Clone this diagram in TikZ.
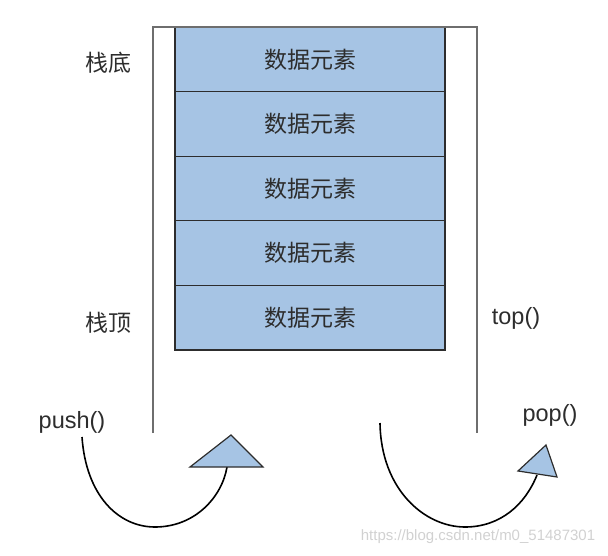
\documentclass[tikz,border=0pt]{standalone}
\usepackage{fontspec}
\setmainfont{Liberation Sans}
\newfontfamily\cjk{Noto Sans CJK SC}
\usepackage{tikz}
\usetikzlibrary{positioning,calc}
\definecolor{cellblue}{RGB}{166,196,228}
\definecolor{wallgray}{RGB}{110,110,110}
\definecolor{textgray}{RGB}{45,45,45}

\begin{document}
\begin{tikzpicture}[x=1pt, y=-1pt,
  cell/.style={rectangle, draw=textgray, line width=1.3pt, fill=cellblue, minimum width=270pt, minimum height=64.6pt, inner sep=0pt, font=\cjk\fontsize{23}{27}\selectfont, text=textgray},
  side/.style={font=\cjk\fontsize{23}{27}\selectfont, text=textgray, inner sep=0pt},
  op/.style={font=\fontsize{23.5}{27}\selectfont, text=textgray, inner sep=0pt},
  wall/.style={draw=wallgray, line width=1.6pt},
  swing/.style={draw=black, line width=1.6pt},
  head/.style={draw=textgray, line width=1.2pt, fill=cellblue, line join=miter},
]
  \useasboundingbox (0,0) rectangle (608,555);

  % stack cells
  \node[cell] (e1) at (310,59.3)  {数据元素};
  \node[cell] (e2) at (310,123.9) {数据元素};
  \node[cell] (e3) at (310,188.5) {数据元素};
  \node[cell] (e4) at (310,253.1) {数据元素};
  \node[cell] (e5) at (310,317.7) {数据元素};

  % container walls
  \draw[wall] (153,433) -- (153,27) -- (477,27) -- (477,433);

  % labels
  \node[side] (bottom) at (108,63)  {栈底};
  \node[side] (topl)   at (108,323) {栈顶};
  \node[op]   (top)    at (516,318) {top()};
  \node[op]   (push)   at (72,422)  {push()};
  \node[op]   (pop)    at (550,415) {pop()};

  % push arrow
  \coordinate (pushstart) at (82,437);
  \coordinate (pushend)   at (227,467);
  \draw[swing] (pushstart) .. controls (86,495) and (118,527) .. (155,527)
                           .. controls (195,527) and (222,497) .. (pushend);
  \draw[head] (190,467) -- (231,435) -- (263,467) -- cycle;

  % pop arrow
  \coordinate (popstart) at (380,423);
  \coordinate (popend)   at (537,475);
  \draw[swing] (popstart) .. controls (381,490) and (425,527) .. (465,527)
                          .. controls (500,527) and (525,505) .. (popend);
  \draw[head] (518,471) -- (546,445) -- (557,477) -- cycle;

  \node[font=\fontsize{15}{18}\selectfont, text=black!18, inner sep=0pt] (mark) at (478,537) {https://blog.csdn.net/m0\_51487301};
\end{tikzpicture}
\end{document}
